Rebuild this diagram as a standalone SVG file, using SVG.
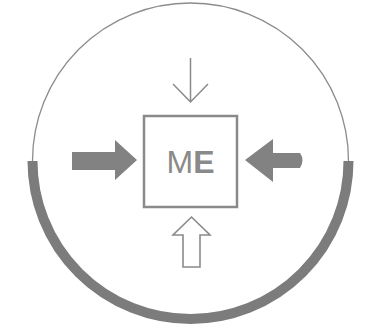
<svg xmlns="http://www.w3.org/2000/svg" width="370" height="330" viewBox="0 0 370 330">
<style>
.thin{fill:none;stroke:#8c8c8c;stroke-width:1.3}
.thick{fill:none;stroke:#7c7c7c;stroke-width:10}
.box{fill:#fff;stroke:#8a8a8a;stroke-width:2.5}
.solid{fill:#828282;stroke:none}
.hollow{fill:#fff;stroke:#8a8a8a;stroke-width:1.6;stroke-linejoin:miter}
.line{fill:none;stroke:#8a8a8a;stroke-width:1.5}
.lbl{font-family:"Liberation Sans",Arial,sans-serif;font-size:32px;fill:#8a8a8a}
</style>
<rect width="370" height="330" fill="#fff"/>
<g id="circle">
<circle class="thin" cx="190.5" cy="161" r="158"/>
<path class="thick" d="M32.5 161 A158 158 0 0 0 348.5 161"/>
</g>
<g id="me">
<rect class="box" x="144" y="116" width="93" height="91"/>
<text class="lbl" x="190.5" y="173" text-anchor="middle"><tspan font-weight="normal">M</tspan><tspan font-weight="bold">E</tspan></text>
</g>
<g id="connectors">
<path class="line" d="M190.5 58 V102 M173 84 L190.5 102 L208 84"/>
<path class="hollow" d="M191.5 217 L210 235 L200 235 L200 267 L183 267 L183 235 L173 235 Z"/>
<path class="solid" d="M72 152 H115 V140 L137 160 L115 180 V170 H72 Z"/>
<path class="solid" d="M245 160 L273 139 V153 H300 Q305 160 300 168 H273 V182 Z"/>
</g>
</svg>
